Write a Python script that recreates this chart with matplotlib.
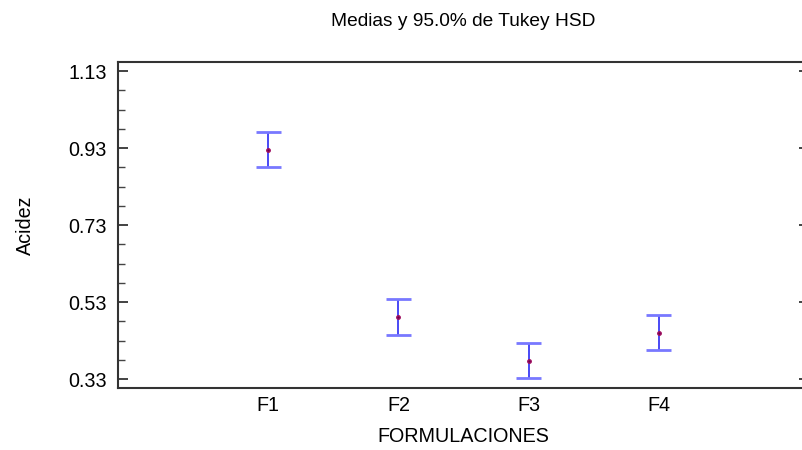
import numpy as np
import matplotlib.pyplot as plt
from matplotlib.ticker import FixedLocator

plt.rcParams['font.family'] = ['Liberation Sans', 'DejaVu Sans']

# medias y semiamplitud del intervalo Tukey HSD (95%)
formulaciones = ['F1', 'F2', 'F3', 'F4']
medias = [0.926, 0.491, 0.378, 0.451]
semi = [0.045, 0.046, 0.0455, 0.046]
yticks = [0.33, 0.53, 0.73, 0.93, 1.13]

fs = 14.2

fig = plt.figure(figsize=(8.03, 4.5), dpi=100)
ax = fig.add_axes([118 / 803, 1 - 388 / 450, 691 / 803, 326 / 450])

x = np.arange(1, len(formulaciones) + 1)
ax.errorbar(x, medias, yerr=semi, fmt='none', ecolor='#3a3af5',
            elinewidth=1.3, capsize=0, zorder=2)
# caps a bit lighter, like the original
for xi, m, s in zip(x, medias, semi):
    ax.hlines([m - s, m + s], xi - 0.096, xi + 0.096, colors='#7878ff',
              linewidth=2, zorder=3)
ax.plot(x, medias, 'o', ms=2.5, mfc='#6a0050', mec='#a01060', zorder=4)

ax.set_xlim(1 - 1.154, 4 + 1.154)
ax.set_ylim(0.307, 1.1535)
ax.set_xticks(x)
ax.set_xticklabels(formulaciones)
ax.yaxis.set_major_locator(FixedLocator(yticks))
ax.set_yticklabels(['%.2f' % v for v in yticks])
ax.yaxis.set_minor_locator(FixedLocator(np.arange(0.33, 1.15, 0.05)))

ax.tick_params(axis='x', length=0, labelsize=fs, pad=5.5)
ax.tick_params(axis='y', which='major', direction='in', length=7, width=1.2,
               right=True, labelsize=fs, pad=8, color='#222222')
ax.tick_params(axis='y', which='minor', direction='in', length=5, width=1,
               right=True, color='#444444')
for sp in ax.spines.values():
    sp.set_linewidth(1.5)
    sp.set_color('#333333')

ax.set_title('Medias y 95.0% de Tukey HSD', fontsize=13.8, pad=26)
ax.set_xlabel('FORMULACIONES', fontsize=fs, labelpad=9)
ax.set_ylabel('Acidez', fontsize=fs, labelpad=24)

fig.savefig('out.png', dpi=100)
